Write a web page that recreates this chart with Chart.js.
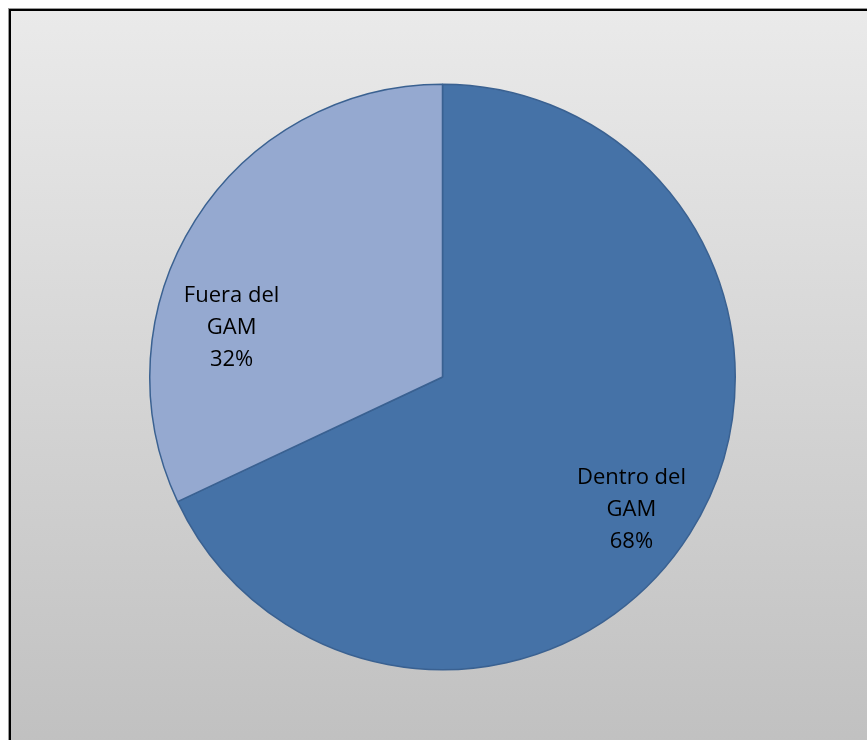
<!DOCTYPE html>
<html>
<head>
<meta charset="utf-8">
<script src="https://cdn.jsdelivr.net/npm/chart.js@4/dist/chart.umd.min.js"></script>
<style>
  html, body { margin: 0; padding: 0; background: #fff; }
  #wrap { position: relative; width: 867px; height: 740px; overflow: hidden; background: #fff; }
  #frame {
    position: absolute; left: 9px; top: 9px; width: 900px; height: 760px;
    border-left: 2px solid #000; border-top: 2px solid #000;
    box-shadow: -1px -1px 0 #9a9a9a;
    background: linear-gradient(to bottom, #eaeaea 0%, #bfbfbf 100%);
  }
  #chart { position: absolute; left: 0; top: 0; }
</style>
</head>
<body>
<div id="wrap">
  <div id="frame"></div>
  <canvas id="chart" width="867" height="740"></canvas>
</div>
<script>
// Share of cases inside / outside the GAM
const categories = [['Dentro del', 'GAM'], ['Fuera del', 'GAM']];
const shares = [68, 32];
const sliceColors = ['#4572a7', '#95a9d0'];

// Label anchor for each slice: angle (deg, clockwise from 12 o'clock) and distance as a fraction of the radius
const labelAnchors = [
  { angle: 125.0, dist: 0.788 },
  { angle: -76.8, dist: 0.74 }
];

const sliceLabels = {
  id: 'sliceLabels',
  afterDatasetsDraw(chart) {
    const { ctx } = chart;
    const meta = chart.getDatasetMeta(0);
    const total = shares.reduce((a, b) => a + b, 0);
    ctx.save();
    ctx.font = '22px "Open Sans", Lato, sans-serif';
    ctx.fillStyle = '#000';
    ctx.textAlign = 'center';
    ctx.textBaseline = 'middle';
    meta.data.forEach((arc, i) => {
      const { x, y, outerRadius } = arc.getProps(['x', 'y', 'outerRadius'], true);
      const a = labelAnchors[i].angle * Math.PI / 180;
      const r = outerRadius * labelAnchors[i].dist;
      const cx = x + Math.sin(a) * r;
      const cy = y - Math.cos(a) * r;
      const lines = [...categories[i], Math.round(shares[i] / total * 100) + '%'];
      const lh = 32;
      lines.forEach((t, k) => {
        ctx.fillText(t, cx, cy + (k - (lines.length - 1) / 2) * lh);
      });
    });
    ctx.restore();
  }
};

new Chart(document.getElementById('chart'), {
  type: 'pie',
  data: {
    labels: categories.map(c => c.join(' ')),
    datasets: [{
      data: shares,
      backgroundColor: sliceColors,
      borderColor: '#3a6191',
      borderWidth: 1.5
    }]
  },
  options: {
    responsive: false,
    animation: false,
    layout: { padding: { left: 149, right: 131, top: 83, bottom: 69 } },
    plugins: {
      legend: { display: false },
      tooltip: { enabled: false }
    }
  },
  plugins: [sliceLabels]
});
</script>
</body>
</html>
